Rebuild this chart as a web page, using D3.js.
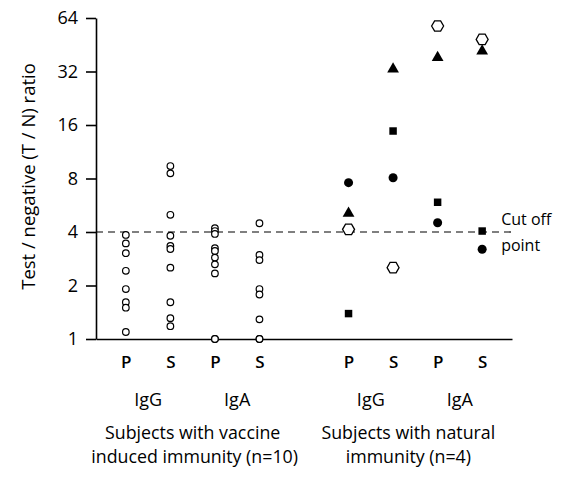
<!DOCTYPE html>
<html>
<head>
<meta charset="utf-8">
<script src="https://cdn.jsdelivr.net/npm/d3@7"></script>
<style>
  body { margin: 0; background: white; }
  svg text { font-family: "Open Sans", Lato, sans-serif; fill: black; }
</style>
</head>
<body>
<div id="chart"></div>
<script>
// columns along the x axis ("gap" separates the two subject groups)
var columns = ["vG_P", "vG_S", "vA_P", "vA_S", "gap", "nG_P", "nG_S", "nA_P", "nA_S"]
var columnLabels = ["P", "S", "P", "S", "", "P", "S", "P", "S"]
var yTicks = [1, 2, 4, 8, 16, 32, 64]
var cutOff = 4

// vaccine induced immunity (n=10), open circles
var vaccineIgG_P = [3.85, 3.45, 3.04, 2.42, 1.91, 1.61, 1.50, 1.095]
var vaccineIgG_S = [9.4, 8.55, 5.0, 3.81, 3.34, 3.21, 2.52, 1.61, 1.31, 1.18]
var vaccineIgA_P = [4.2, 4.05, 3.9, 3.24, 3.13, 2.87, 2.63, 2.34, 1, 1]
var vaccineIgA_S = [4.48, 2.97, 2.78, 1.91, 1.78, 1.29, 1, 1]

// natural immunity (n=4), one symbol per subject
var subjects = ["circle", "triangle", "square", "hexagon"]
var naturalIgG_P = [7.58, 5.1, 1.39, 4.14]
var naturalIgG_S = [8.08, 33.0, 14.8, 2.52]
var naturalIgA_P = [4.51, 38.3, 5.88, 57.7]
var naturalIgA_S = [3.2, 41.7, 4.05, 48.5]

var margin = {top: 18, right: 53, bottom: 139, left: 96},
    width = 565 - margin.left - margin.right,
    height = 478 - margin.top - margin.bottom;

var svg = d3.select("#chart")
    .append("svg")
    .attr("width", 565)
    .attr("height", 478)
    .append("g")
    .attr("transform", "translate(" + margin.left + "," + margin.top + ")");

var x = d3.scalePoint()
    .domain(columns)
    .range([0, width])
    .padding(0.67)

var y = d3.scaleLog()
    .base(2)
    .domain([1, 64])
    .range([height, 0])

// Y axis
var yAxis = svg.append("g")
    .call(d3.axisLeft(y).tickValues(yTicks).tickFormat(d3.format("d")).tickSize(10).tickSizeOuter(0).tickPadding(8))
yAxis.selectAll("path, line").attr("stroke", "black").attr("stroke-width", 1.6)
yAxis.selectAll("text").style("font-size", "18px").style("font-weight", "500")

// X axis
var xAxis = svg.append("g")
    .attr("transform", "translate(0," + height + ")")
    .call(d3.axisBottom(x).tickSize(0).tickSizeOuter(0).tickPadding(17)
        .tickValues(columns.filter(function(c) { return c != "gap" }))
        .tickFormat(function(d) { return columnLabels[columns.indexOf(d)] }))
xAxis.select("path").attr("stroke", "black").attr("stroke-width", 1.6)
xAxis.selectAll("text").style("font-size", "17px").style("font-weight", "600")

// Y label
svg.append("text")
    .attr("transform", "translate(-61," + (height / 2 - 2) + ") rotate(-90)")
    .attr("text-anchor", "middle")
    .style("font-size", "18.5px")
    .text("Test / negative (T / N) ratio")

// group labels
var isoLabels = [["IgG", "vG_P", "vG_S"], ["IgA", "vA_P", "vA_S"], ["IgG", "nG_P", "nG_S"], ["IgA", "nA_P", "nA_S"]]
svg.selectAll("isolabel")
    .data(isoLabels)
    .enter()
    .append("text")
    .attr("x", function(d) { return (x(d[1]) + x(d[2])) / 2 })
    .attr("y", height + 67)
    .attr("text-anchor", "middle")
    .style("font-size", "18px")
    .text(function(d) { return d[0] })

var groupLabels = [
    ["Subjects with vaccine", "induced immunity (n=10)", "vG_P", "vA_S", 0, 2],
    ["Subjects with natural", "immunity (n=4)", "nG_P", "nA_S", -7, -7]]
groupLabels.forEach(function(g) {
    var cx = (x(g[2]) + x(g[3])) / 2
    svg.append("text").attr("x", cx + g[4]).attr("y", height + 100)
        .attr("text-anchor", "middle").style("font-size", "17.8px").text(g[0])
    svg.append("text").attr("x", cx + g[5]).attr("y", height + 124)
        .attr("text-anchor", "middle").style("font-size", "17.8px").text(g[1])
})

// Cut off line
svg.append("line")
    .attr("x1", 0)
    .attr("x2", width)
    .attr("y1", y(cutOff))
    .attr("y2", y(cutOff))
    .attr("stroke", "black")
    .attr("stroke-width", 1.2)
    .attr("stroke-dasharray", "7,5")

svg.append("text")
    .attr("x", x("nA_S") + 19)
    .attr("y", y(cutOff) - 7)
    .style("font-size", "16px")
    .text("Cut off")
svg.append("text")
    .attr("x", x("nA_S") + 19)
    .attr("y", y(cutOff) + 19)
    .style("font-size", "16px")
    .text("point")

// vaccine points
var vaccine = [["vG_P", vaccineIgG_P], ["vG_S", vaccineIgG_S], ["vA_P", vaccineIgA_P], ["vA_S", vaccineIgA_S]]
var vPoints = []
vaccine.forEach(function(c) {
    c[1].forEach(function(v) { vPoints.push({col: c[0], value: v}) })
})
svg.selectAll("vcircle")
    .data(vPoints)
    .enter()
    .append("circle")
    .attr("cx", function(d) { return x(d.col) })
    .attr("cy", function(d) { return y(d.value) })
    .attr("r", 3.3)
    .style("fill", "white")
    .attr("stroke", "black")
    .attr("stroke-width", 1.2)

// natural points
var natural = [["nG_P", naturalIgG_P], ["nG_S", naturalIgG_S], ["nA_P", naturalIgA_P], ["nA_S", naturalIgA_S]]
var nPoints = []
natural.forEach(function(c) {
    c[1].forEach(function(v, i) { nPoints.push({col: c[0], value: v, subject: subjects[i]}) })
})

var hexagon = d3.range(6).map(function(i) {
    var a = Math.PI / 3 * i
    return [6 * Math.cos(a), 6 * Math.sin(a)]
})
var symbols = {
    circle: d3.symbol().type(d3.symbolCircle).size(64)(),
    triangle: d3.symbol().type(d3.symbolTriangle).size(60)(),
    square: d3.symbol().type(d3.symbolSquare).size(56)(),
    hexagon: "M" + hexagon.join("L") + "Z"
}

svg.selectAll("nsymbol")
    .data(nPoints)
    .enter()
    .append("path")
    .attr("transform", function(d) { return "translate(" + x(d.col) + "," + y(d.value) + ")" })
    .attr("d", function(d) { return symbols[d.subject] })
    .style("fill", function(d) { return d.subject == "hexagon" ? "white" : "black" })
    .attr("stroke", "black")
    .attr("stroke-width", function(d) { return d.subject == "hexagon" ? 1.3 : 0 })
</script>
</body>
</html>
